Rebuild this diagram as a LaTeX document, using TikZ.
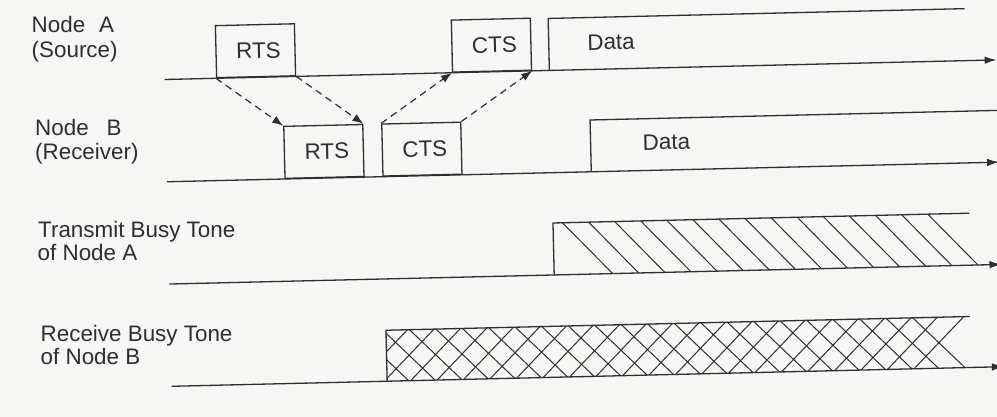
\documentclass[tikz,border=0pt]{standalone}
\usepackage{fontspec}
\setmainfont{Liberation Sans}
\usetikzlibrary{arrows.meta}
\definecolor{ink}{gray}{0.18}
\definecolor{paper}{rgb}{0.965,0.965,0.957}
\begin{document}
\begin{tikzpicture}[x=1pt,y=-1pt,
  every node/.style={text=ink},
  lbl/.style={anchor=base west, inner sep=0pt, font=\fontsize{22.4}{24}\selectfont},
  pkt/.style={draw=ink, line width=1.3pt, minimum width=79pt, minimum height=52pt,
    inner sep=0pt, anchor=south west, transform shape, font=\fontsize{22.4}{24}\selectfont},
  dlbl/.style={anchor=base west, inner sep=0pt, transform shape, font=\fontsize{22.4}{24}\selectfont},
  axisline/.style={draw=ink, line width=1.3pt, -{Latex[length=12pt,width=7.5pt]}},
  sig/.style={draw=ink, line width=1.3pt, line join=miter},
  msg/.style={draw=ink, line width=1.2pt, dash pattern=on 7pt off 5pt, -{Latex[length=11pt,width=8pt]}},
  hatch/.style={draw=ink, line width=1pt}
]
\fill[paper] (0,0) rectangle (997,417);
\useasboundingbox (0,0) rectangle (997,417);

% left labels
\node[lbl] (tA1) at (31.5,33) {Node\hspace{14pt}A};
\node[lbl] (tA2) at (31.5,57.5) {(Source)};
\node[lbl] (tB1) at (35,136) {Node\hspace{18pt}B};
\node[lbl] (tB2) at (35,159.5) {(Receiver)};
\node[lbl] (tT1) at (38,237.5) {Transmit Busy Tone};
\node[lbl] (tT2) at (37.5,261) {of Node A};
\node[lbl] (tR1) at (40.5,341) {Receive Busy Tone};
\node[lbl] (tR2) at (40.5,364.5) {of Node B};

\begin{scope}[rotate around={1.35:(165,79)}]
  % axes
  \coordinate (a0) at (164.5,79.5);  \coordinate (a1) at (997,79.5);
  \coordinate (b0) at (164.5,181.8); \coordinate (b1) at (997,181.8);
  \coordinate (t0) at (164.5,284.1); \coordinate (t1) at (997,284.1);
  \coordinate (r0) at (164.5,386.4); \coordinate (r1) at (997,386.4);
  \draw[axisline] (a0) -- (a1);
  \draw[axisline] (b0) -- (b1);
  \draw[axisline] (t0) -- (t1);
  \draw[axisline] (r0) -- (r1);

  % control packets
  \node[pkt] (rtsA) at (216,79.5) {\hspace*{6pt}RTS};
  \node[pkt] (ctsA) at (452,79.5) {\hspace*{6pt}CTS};
  \node[pkt] (rtsB) at (282,181.8) {\hspace*{6pt}RTS};
  \node[pkt] (ctsB) at (380,181.8) {\hspace*{6pt}CTS};

  % data
  \draw[sig] (549.5,79.5) -- (549.5,27.5) -- (966,27.5);
  \node[dlbl] (dataA) at (588,60) {Data};
  \draw[sig] (589,181.8) -- (589,130) -- (1005,130);
  \node[dlbl] (dataB) at (641,161.5) {Data};

  % transmit busy tone
  \foreach \k in {0,...,14} {
    \draw[hatch] ({559+26.1*\k},232.1) -- ({608+26.1*\k},284.1);
  }
  \draw[sig] (549.5,284.1) -- (549.5,232.1) -- (966,232.1);

  % receive busy tone
  \begin{scope}
    \clip (380,335.4) -- (1000,335.4) -- (1000,386.4) -- (380,386.4) -- cycle;
    \foreach \k in {0,...,22} {
      \draw[hatch] ({907-26.5*\k},335.4) -- ({958-26.5*\k},386.4);
      \draw[hatch] ({907-26.5*\k},386.4) -- ({958-26.5*\k},335.4);
    }
  \end{scope}
  \draw[sig] (380,386.4) -- (380,335.4) -- (964,335.4);

  % handshake messages
  \draw[msg] (rtsA.south west) -- (rtsB.north west);
  \draw[msg] (rtsA.south east) -- (rtsB.north east);
  \draw[msg] (ctsB.north west) -- (ctsA.south west);
  \draw[msg] (ctsB.north east) -- (ctsA.south east);
\end{scope}
\end{tikzpicture}
\end{document}
